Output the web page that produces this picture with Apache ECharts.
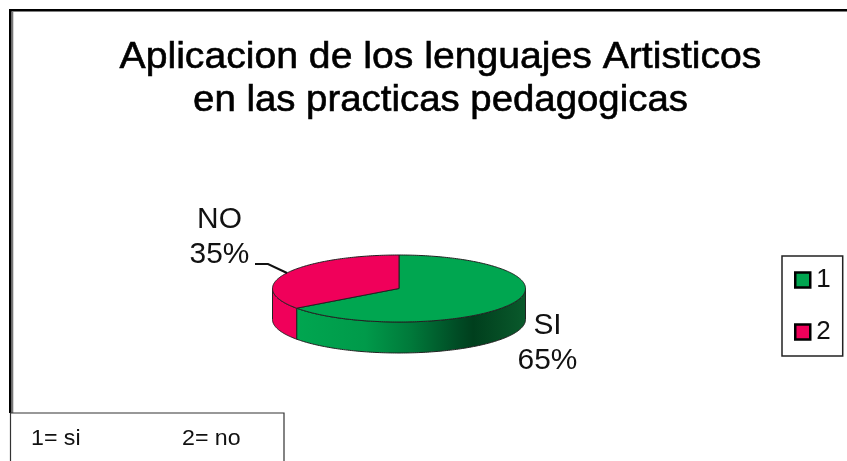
<!DOCTYPE html>
<html>
<head>
<meta charset="utf-8">
<style>
  html, body { margin: 0; padding: 0; background: #fff; }
  #chart { width: 847px; height: 461px; }
</style>
</head>
<body>
<div id="chart"></div>
<script src="https://cdn.jsdelivr.net/npm/echarts@6/dist/echarts.min.js"></script>
<script>
var titleLines = ['Aplicacion de los lenguajes Artisticos', 'en las practicas pedagogicas']
var legendNames = ['1', '2']
var sliceLabels = ['SI', 'NO']
var sliceValues = [65, 35]
var sliceColors = ['#00a650', '#f0005a']
var noteTexts = ['1= si', '2= no']

var FONT = '"Liberation Sans", Arial, sans-serif'
var total = sliceValues.reduce(function(a, b) { return a + b }, 0)

// ellipse of the fake 3D pie
var cx = 399
var cy = 288.5
var rx = 126.5
var ry = 33.5
var depth = 31

function pt(deg, dy) {
  var r = deg * Math.PI / 180
  return [cx + rx * Math.sin(r), cy - ry * Math.cos(r) + (dy || 0)]
}

function arc(from, to, dy) {
  var pts = []
  var n = Math.max(2, Math.ceil(Math.abs(to - from)))
  for (var i = 0; i <= n; i++) {
    pts.push(pt(from + (to - from) * i / n, dy))
  }
  return pts
}

function sliceAngles(index) {
  var before = 0
  for (var i = 0; i < index; i++) before += sliceValues[i]
  return [before / total * 360, (before + sliceValues[index]) / total * 360]
}

var sideGreen = {
  type: 'linear', x: 0, y: 0, x2: 1, y2: 0,
  colorStops: [
    { offset: 0, color: '#00a650' },
    { offset: 0.3, color: '#009a4a' },
    { offset: 0.5, color: '#00793a' },
    { offset: 0.7, color: '#004c25' },
    { offset: 0.77, color: '#003f1d' },
    { offset: 1, color: '#0a5a2c' }
  ]
}

function renderSlice(index, color, sideColor) {
  return function() {
    var a = sliceAngles(index)
    var children = []
    // front wall, only the part facing the viewer
    var from = Math.max(a[0], 90)
    var to = Math.min(a[1], 270)
    if (to > from) {
      children.push({
        type: 'polygon',
        shape: { points: arc(from, to, 0).concat(arc(to, from, depth)) },
        style: { fill: sideColor, stroke: '#222', lineWidth: 1 }
      })
    }
    // top face
    children.push({
      type: 'polygon',
      shape: { points: [[cx, cy]].concat(arc(a[0], a[1], 0)) },
      style: { fill: color, stroke: '#222', lineWidth: 1, lineJoin: 'round' }
    })
    return { type: 'group', children: children }
  }
}

var labelPos = [[547.5, 343], [219.5, 237]]

function renderLabels() {
  var children = sliceValues.map(function(v, i) {
    return {
      type: 'text',
      x: labelPos[i][0],
      y: labelPos[i][1],
      scaleX: 1.03,
      style: {
        x: 0,
        y: 0,
        text: sliceLabels[i] + '\n' + Math.round(v / total * 100) + '%',
        font: '29px ' + FONT,
        fill: '#111',
        align: 'center',
        verticalAlign: 'middle',
        lineHeight: 35
      }
    }
  })
  // leader line of the NO label
  children.push({
    type: 'polyline',
    shape: { points: [[255, 264], [268, 264], [287, 273]] },
    style: { fill: 'none', stroke: '#111', lineWidth: 2 }
  })
  return { type: 'group', children: children }
}

function titleLine(text, y, scaleX) {
  return {
    type: 'text',
    x: 440.5,
    y: y,
    scaleX: scaleX,
    style: {
      x: 0,
      y: 0,
      text: text,
      font: '37px ' + FONT,
      fill: '#000',
      stroke: '#000',
      lineWidth: 0.6,
      align: 'center',
      verticalAlign: 'middle'
    }
  }
}

var chart = echarts.init(document.getElementById('chart'))
chart.setOption({
  animation: false,
  backgroundColor: '#fff',
  legend: {
    data: legendNames,
    orient: 'vertical',
    left: 782,
    top: 256,
    icon: 'rect',
    itemWidth: 15,
    itemHeight: 15,
    itemGap: 26,
    padding: [11, 12, 11, 12],
    borderColor: '#222',
    borderWidth: 1.5,
    borderRadius: 0,
    itemStyle: { borderColor: '#000', borderWidth: 2.5 },
    textStyle: { fontFamily: FONT, fontSize: 26, color: '#111', lineHeight: 25, padding: [0, 0, 0, 1] }
  },
  series: [
    { type: 'custom', name: legendNames[0], coordinateSystem: 'none', data: [sliceValues[0]], itemStyle: { color: sliceColors[0] }, renderItem: renderSlice(0, sliceColors[0], sideGreen) },
    { type: 'custom', name: legendNames[1], coordinateSystem: 'none', data: [sliceValues[1]], itemStyle: { color: sliceColors[1] }, renderItem: renderSlice(1, sliceColors[1], sliceColors[1]) },
    { type: 'custom', coordinateSystem: 'none', silent: true, data: [0], renderItem: renderLabels, z: 3 }
  ],
  graphic: [
    // title is wider than the font, so each line gets stretched a bit
    titleLine(titleLines[0], 58, 1.058),
    titleLine(titleLines[1], 101, 1.037),
    // outer frame, top and left only are in the picture
    { type: 'line', shape: { x1: 9, y1: 10.3, x2: 847, y2: 10.3 }, style: { stroke: '#000', lineWidth: 2.6 } },
    { type: 'line', shape: { x1: 10.3, y1: 9, x2: 10.3, y2: 413 }, style: { stroke: '#000', lineWidth: 2.6 } },
    { type: 'line', shape: { x1: 12.5, y1: 11, x2: 12.5, y2: 413 }, style: { stroke: '#777', lineWidth: 1.6 } },
    // note box under the chart
    { type: 'rect', shape: { x: 10.5, y: 413, width: 273.5, height: 60 }, style: { fill: '#fff', stroke: '#333', lineWidth: 1.2 } },
    { type: 'text', x: 31, y: 438.5, scaleX: 1.03, style: { x: 0, y: 0, text: noteTexts[0], font: '22.5px ' + FONT, fill: '#111', verticalAlign: 'middle' } },
    { type: 'text', x: 182, y: 438.5, scaleX: 1.03, style: { x: 0, y: 0, text: noteTexts[1], font: '22.5px ' + FONT, fill: '#111', verticalAlign: 'middle' } }
  ]
})
</script>
</body>
</html>
